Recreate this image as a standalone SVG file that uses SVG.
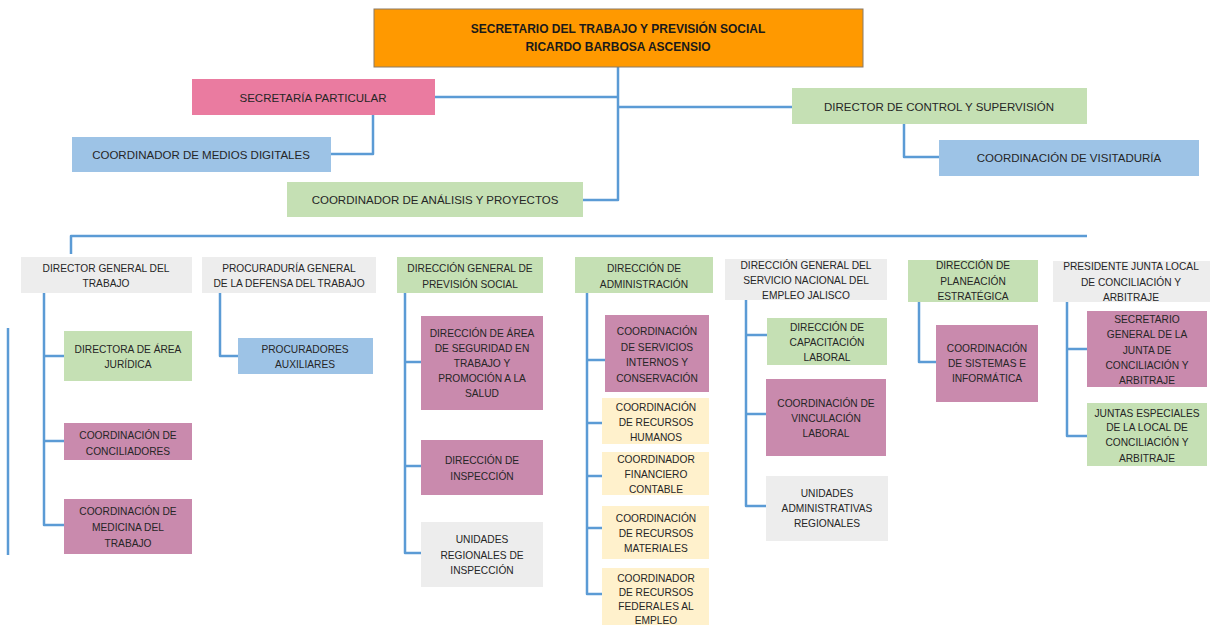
<svg xmlns="http://www.w3.org/2000/svg" width="1211" height="625" viewBox="0 0 1211 625">
<style>
text{font-family:"Liberation Sans",Arial,sans-serif;fill:#262626;text-anchor:middle;dominant-baseline:central}
.t{font-size:11.5px}
.b{font-size:10.2px}
.h{font-size:12px;font-weight:bold;fill:#1a1a1a}
.or{fill:#FF9900;stroke:#8A7A66;stroke-width:1}
.pk{fill:#EA7BA0}
.bl{fill:#9DC3E6}
.gr{fill:#C5E0B4}
.mv{fill:#C98AAD}
.ye{fill:#FFF1CC}
.gy{fill:#EDEDED}
.c path{fill:none;stroke:#5B9BD5;stroke-width:2.5;stroke-linejoin:round}
</style>
<rect width="1211" height="625" fill="#ffffff"/>
<g class="c" id="connectors">
<path d="M618,67 V200 H583"/>
<path d="M435,97 H618"/>
<path d="M618,107 H792"/>
<path d="M373,115 V154 H331"/>
<path d="M904,124 V157 H939"/>
<path d="M71,254 V236 H1087"/>
<path d="M8,328 V555"/>
<path d="M44,293 V525 H64 M44,356 H64 M44,441 H64"/>
<path d="M220,293 V356 H238"/>
<path d="M405,293 V553 H421 M405,362 H421 M405,466 H421"/>
<path d="M587,293 V594 H602 M587,360 H605 M587,423 H602 M587,476 H602 M587,528 H602"/>
<path d="M746,300 V506 H766 M746,335 H767 M746,414 H766"/>
<path d="M919,302 V362 H936"/>
<path d="M1067,302 V436 H1087 M1067,349 H1087"/>
</g>
<g id="n-secretario"><rect class="or" x="374" y="9" width="489" height="58"/><text class="h" x="618" y="29">SECRETARIO DEL TRABAJO Y PREVISIÓN SOCIAL</text><text class="h" x="618" y="47">RICARDO BARBOSA ASCENSIO</text></g>
<g id="n-particular"><rect class="pk" x="192" y="79" width="243" height="36"/><text class="t" x="313" y="98">SECRETARÍA PARTICULAR</text></g>
<g id="n-medios"><rect class="bl" x="72" y="137" width="259" height="35"/><text class="t" x="201" y="155">COORDINADOR DE MEDIOS DIGITALES</text></g>
<g id="n-analisis"><rect class="gr" x="287" y="182" width="296" height="35"/><text class="t" x="435" y="200">COORDINADOR DE ANÁLISIS Y PROYECTOS</text></g>
<g id="n-control"><rect class="gr" x="792" y="88" width="295" height="36"/><text class="t" x="939" y="107">DIRECTOR DE CONTROL Y SUPERVISIÓN</text></g>
<g id="n-visitaduria"><rect class="bl" x="939" y="140" width="260" height="36"/><text class="t" x="1069" y="158">COORDINACIÓN DE VISITADURÍA</text></g>

<g id="n-dgt"><rect class="gy" x="21" y="257" width="171" height="36"/><text class="b" x="106" y="268">DIRECTOR GENERAL DEL</text><text class="b" x="106" y="283">TRABAJO</text></g>
<g id="n-juridica"><rect class="gr" x="64" y="331" width="128" height="50"/><text class="b" x="128" y="349">DIRECTORA DE ÁREA</text><text class="b" x="128" y="364">JURÍDICA</text></g>
<g id="n-conciliadores"><rect class="mv" x="64" y="423" width="128" height="37"/><text class="b" x="128" y="435">COORDINACIÓN DE</text><text class="b" x="128" y="451">CONCILIADORES</text></g>
<g id="n-medicina"><rect class="mv" x="64" y="499" width="128" height="55"/><text class="b" x="128" y="511">COORDINACIÓN DE</text><text class="b" x="128" y="527">MEDICINA DEL</text><text class="b" x="128" y="543">TRABAJO</text></g>

<g id="n-procuraduria"><rect class="gy" x="202" y="257" width="174" height="36"/><text class="b" x="289" y="268">PROCURADURÍA GENERAL</text><text class="b" x="289" y="283">DE LA DEFENSA DEL TRABAJO</text></g>
<g id="n-procuradores"><rect class="bl" x="238" y="338" width="135" height="36"/><text class="b" x="305" y="349">PROCURADORES</text><text class="b" x="305" y="364">AUXILIARES</text></g>

<g id="n-prevision"><rect class="gr" x="397" y="257" width="146" height="36"/><text class="b" x="470" y="268">DIRECCIÓN GENERAL DE</text><text class="b" x="470" y="284">PREVISIÓN SOCIAL</text></g>
<g id="n-seguridad"><rect class="mv" x="421" y="316" width="122" height="94"/><text class="b" x="482" y="333">DIRECCIÓN DE ÁREA</text><text class="b" x="482" y="348">DE SEGURIDAD EN</text><text class="b" x="482" y="363">TRABAJO Y</text><text class="b" x="482" y="378">PROMOCIÓN A LA</text><text class="b" x="482" y="393">SALUD</text></g>
<g id="n-inspeccion"><rect class="mv" x="421" y="440" width="122" height="55"/><text class="b" x="482" y="460">DIRECCIÓN DE</text><text class="b" x="482" y="476">INSPECCIÓN</text></g>
<g id="n-regionales"><rect class="gy" x="421" y="522" width="122" height="65"/><text class="b" x="482" y="539">UNIDADES</text><text class="b" x="482" y="555">REGIONALES DE</text><text class="b" x="482" y="570">INSPECCIÓN</text></g>

<g id="n-administracion"><rect class="gr" x="575" y="257" width="138" height="36"/><text class="b" x="644" y="268">DIRECCIÓN DE</text><text class="b" x="644" y="284">ADMINISTRACIÓN</text></g>
<g id="n-servicios"><rect class="mv" x="605" y="315" width="104" height="77"/><text class="b" x="657" y="331">COORDINACIÓN</text><text class="b" x="657" y="347">DE SERVICIOS</text><text class="b" x="657" y="362">INTERNOS Y</text><text class="b" x="657" y="378">CONSERVACIÓN</text></g>
<g id="n-humanos"><rect class="ye" x="602" y="398" width="107" height="46"/><text class="b" x="656" y="407">COORDINACIÓN</text><text class="b" x="656" y="422">DE RECURSOS</text><text class="b" x="656" y="437">HUMANOS</text></g>
<g id="n-financiero"><rect class="ye" x="602" y="452" width="107" height="43"/><text class="b" x="656" y="459">COORDINADOR</text><text class="b" x="656" y="474">FINANCIERO</text><text class="b" x="656" y="489">CONTABLE</text></g>
<g id="n-materiales"><rect class="ye" x="602" y="506" width="107" height="53"/><text class="b" x="656" y="518">COORDINACIÓN</text><text class="b" x="656" y="533">DE RECURSOS</text><text class="b" x="656" y="548">MATERIALES</text></g>
<g id="n-federales"><rect class="ye" x="602" y="568" width="107" height="57"/><text class="b" x="656" y="578">COORDINADOR</text><text class="b" x="656" y="592">DE RECURSOS</text><text class="b" x="656" y="606">FEDERALES AL</text><text class="b" x="656" y="620">EMPLEO</text></g>

<g id="n-empleo"><rect class="gy" x="725" y="259" width="162" height="41"/><text class="b" x="806" y="265">DIRECCIÓN GENERAL DEL</text><text class="b" x="806" y="280">SERVICIO NACIONAL DEL</text><text class="b" x="806" y="295">EMPLEO JALISCO</text></g>
<g id="n-capacitacion"><rect class="gr" x="767" y="318" width="120" height="47"/><text class="b" x="827" y="327">DIRECCIÓN DE</text><text class="b" x="827" y="342">CAPACITACIÓN</text><text class="b" x="827" y="357">LABORAL</text></g>
<g id="n-vinculacion"><rect class="mv" x="766" y="379" width="120" height="77"/><text class="b" x="826" y="403">COORDINACIÓN DE</text><text class="b" x="826" y="418">VINCULACIÓN</text><text class="b" x="826" y="433">LABORAL</text></g>
<g id="n-administrativas"><rect class="gy" x="766" y="476" width="122" height="65"/><text class="b" x="827" y="493">UNIDADES</text><text class="b" x="827" y="508">ADMINISTRATIVAS</text><text class="b" x="827" y="523">REGIONALES</text></g>

<g id="n-planeacion"><rect class="gr" x="908" y="260" width="130" height="42"/><text class="b" x="973" y="265">DIRECCIÓN DE</text><text class="b" x="973" y="281">PLANEACIÓN</text><text class="b" x="973" y="296">ESTRATÉGICA</text></g>
<g id="n-sistemas"><rect class="mv" x="936" y="325" width="102" height="77"/><text class="b" x="987" y="348">COORDINACIÓN</text><text class="b" x="987" y="363">DE SISTEMAS E</text><text class="b" x="987" y="378">INFORMÁTICA</text></g>

<g id="n-junta"><rect class="gy" x="1053" y="261" width="157" height="41"/><text class="b" x="1131" y="266">PRESIDENTE JUNTA LOCAL</text><text class="b" x="1131" y="282">DE CONCILIACIÓN Y</text><text class="b" x="1131" y="297">ARBITRAJE</text></g>
<g id="n-secgeneral"><rect class="mv" x="1087" y="311" width="120" height="76"/><text class="b" x="1147" y="319">SECRETARIO</text><text class="b" x="1147" y="334">GENERAL DE LA</text><text class="b" x="1147" y="350">JUNTA DE</text><text class="b" x="1147" y="365">CONCILIACIÓN Y</text><text class="b" x="1147" y="380">ARBITRAJE</text></g>
<g id="n-especiales"><rect class="gr" x="1087" y="403" width="120" height="63"/><text class="b" x="1147" y="413">JUNTAS ESPECIALES</text><text class="b" x="1147" y="427">DE LA LOCAL DE</text><text class="b" x="1147" y="442">CONCILIACIÓN Y</text><text class="b" x="1147" y="458">ARBITRAJE</text></g>
</svg>
